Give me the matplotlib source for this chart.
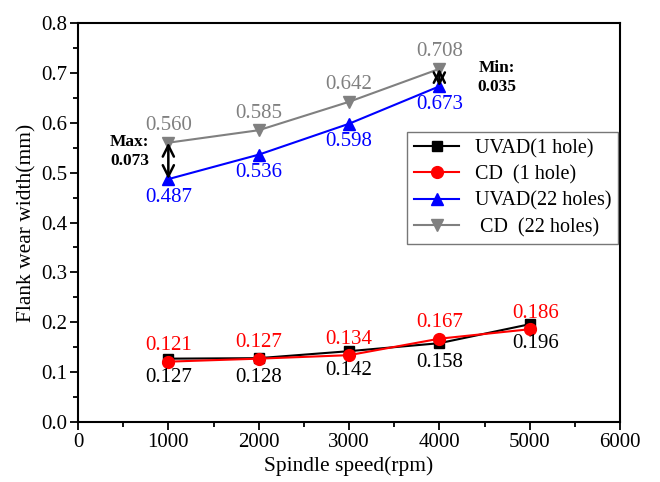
import matplotlib.pyplot as plt
from matplotlib.ticker import MultipleLocator

plt.rcParams['font.family'] = ['Liberation Serif', 'DejaVu Serif']

speed = [1000, 2000, 3000, 4000, 5000]
speed22 = [1000, 2000, 3000, 4000]
uvad1 = [0.127, 0.128, 0.142, 0.158, 0.196]
cd1 = [0.121, 0.127, 0.134, 0.167, 0.186]
uvad22 = [0.487, 0.536, 0.598, 0.673]
cd22 = [0.560, 0.585, 0.642, 0.708]

fig = plt.figure(figsize=(6.6, 4.82), dpi=100)
ax = fig.add_axes([78/660, 60/482, 542/660, 399/482])

ax.plot(speed, uvad1, '-s', color='black', lw=1.5, ms=7, label='UVAD(1 hole)')
ax.plot(speed, cd1, '-o', color='red', lw=1.5, ms=8.5, label='CD  (1 hole)')
ax.plot(speed22, uvad22, '-^', color='blue', lw=1.5, ms=8, label='UVAD(22 holes)')
ax.plot(speed22, cd22, '-v', color='gray', lw=1.5, ms=8, label=' CD  (22 holes)')

fs = 15
# value labels
for x, y in zip(speed, uvad1):
    ax.annotate('%.3f' % y, (x, y), xytext=(6 if x == 5000 else 0, -19),
                textcoords='offset pixels', ha='center', va='center', fontsize=fs, color='black')
for x, y in zip(speed, cd1):
    ax.annotate('%.3f' % y, (x, y), xytext=(6 if x == 5000 else 0, 16),
                textcoords='offset pixels', ha='center', va='center', fontsize=fs, color='red')
for x, y in zip(speed22, uvad22):
    ax.annotate('%.3f' % y, (x, y), xytext=(0, -18),
                textcoords='offset pixels', ha='center', va='center', fontsize=fs, color='blue')
for x, y in zip(speed22, cd22):
    ax.annotate('%.3f' % y, (x, y), xytext=(0, 17),
                textcoords='offset pixels', ha='center', va='center', fontsize=fs, color='gray')

# difference arrows
ax.annotate('', xy=(1000, uvad22[0]), xytext=(1000, cd22[0]),
            arrowprops=dict(arrowstyle='<->', color='black', lw=1.8,
                            mutation_scale=20, shrinkA=0, shrinkB=0))
ax.annotate('', xy=(4000, uvad22[3]), xytext=(4000, cd22[3]),
            arrowprops=dict(arrowstyle='<->', color='black', lw=1.8,
                            mutation_scale=20, shrinkA=0, shrinkB=0))
ax.text(570, 0.543, 'Max:\n0.073', ha='center', va='center', fontsize=12.5,
        fontweight='bold', linespacing=1.25)
ax.text(4640, 0.69, 'Min:\n0.035', ha='center', va='center', fontsize=12.5,
        fontweight='bold', linespacing=1.25)

ax.set_xlim(0, 6000)
ax.set_ylim(0, 0.8)
ax.xaxis.set_major_locator(MultipleLocator(1000))
ax.xaxis.set_minor_locator(MultipleLocator(500))
ax.yaxis.set_major_locator(MultipleLocator(0.1))
ax.yaxis.set_minor_locator(MultipleLocator(0.05))
ax.yaxis.set_major_formatter(plt.FormatStrFormatter('%.1f'))
ax.tick_params(which='both', direction='out', top=False, right=False, labelsize=15, width=1.3)
ax.tick_params(which='major', length=6, pad=2)
ax.tick_params(which='minor', length=3.5)
for s in ax.spines.values():
    s.set_linewidth(1.5)

ax.set_xlabel('Spindle speed(rpm)', fontsize=15.5, labelpad=3)
ax.set_ylabel('Flank wear width(mm)', fontsize=15.5, labelpad=3)

leg = ax.legend(loc='upper right', bbox_to_anchor=(0.997, 0.727), borderaxespad=0,
                fontsize=14.5, fancybox=False, edgecolor='#555555', handlelength=2.2,
                labelspacing=0.35, borderpad=0.35, handletextpad=0.8)
leg.get_frame().set_linewidth(1.0)

fig.savefig('out.png', dpi=100)
